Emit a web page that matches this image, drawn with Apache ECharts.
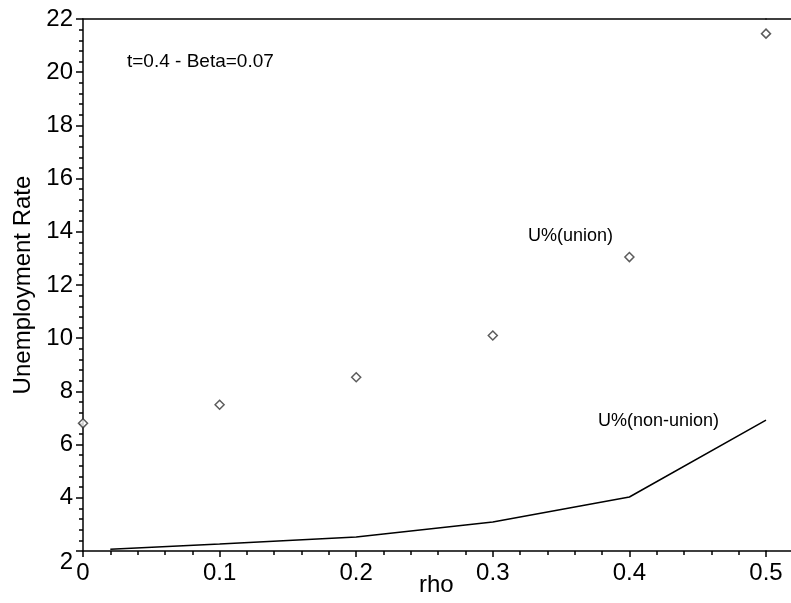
<!DOCTYPE html>
<html>
<head>
<meta charset="utf-8">
<script src="https://cdn.jsdelivr.net/npm/echarts@6/dist/echarts.min.js"></script>
<style>
  html, body { margin: 0; padding: 0; background: #fff; }
  #chart { width: 791px; height: 603px; }
</style>
</head>
<body>
<div id="chart"></div>
<script>
// values
const rhoUnion = [0, 0.1, 0.2, 0.3, 0.4, 0.5];
const unionRate = [6.8, 7.5, 8.53, 10.1, 13.05, 21.45];
const rhoNonUnion = [0.02, 0.1, 0.2, 0.3, 0.4, 0.5];
const nonUnionRate = [2.07, 2.26, 2.53, 3.09, 4.03, 6.92];

const font = "'Liberation Sans', Arial, sans-serif";
const black = { color: "#000", width: 1.5 };

const chart = echarts.init(document.getElementById("chart"));

const option = {
  animation: false,
  grid: [
    { left: 83, top: 19, bottom: 52, right: 25, outerBoundsMode: "none", containLabel: false },
    // thin strip past rho=0.5 so the frame lines run to the edge
    { left: 766, top: 19, bottom: 52, right: 0, outerBoundsMode: "none", containLabel: false },
  ],
  xAxis: [
    {
      type: "value",
      gridIndex: 0,
      min: 0,
      max: 0.5,
      interval: 0.1,
      axisLine: { lineStyle: black },
      axisTick: { length: 6, lineStyle: black },
      minorTick: { show: true, splitNumber: 5, length: 4, lineStyle: black },
      axisLabel: { fontFamily: font, fontSize: 24, color: "#000", margin: 10 },
      splitLine: { show: false },
    },
    {
      type: "value",
      gridIndex: 0,
      position: "top",
      min: 0,
      max: 0.5,
      axisLine: { show: true, lineStyle: black },
      axisTick: { show: false },
      axisLabel: { show: false },
      splitLine: { show: false },
    },
    {
      type: "value",
      gridIndex: 1,
      min: 0,
      max: 1,
      axisLine: { show: true, lineStyle: black },
      axisTick: { show: false },
      axisLabel: { show: false },
      splitLine: { show: false },
    },
    {
      type: "value",
      gridIndex: 1,
      position: "top",
      min: 0,
      max: 1,
      axisLine: { show: true, lineStyle: black },
      axisTick: { show: false },
      axisLabel: { show: false },
      splitLine: { show: false },
    },
  ],
  yAxis: [
    {
      type: "value",
      gridIndex: 0,
      min: 2,
      max: 22,
      interval: 2,
      name: "Unemployment Rate",
      nameLocation: "middle",
      nameGap: 47,
      nameTextStyle: { fontFamily: font, fontSize: 24, color: "#000" },
      axisLine: { show: true, lineStyle: black },
      axisTick: { length: 7, lineStyle: black },
      minorTick: { show: true, splitNumber: 5, length: 4, lineStyle: black },
      axisLabel: {
        fontFamily: font,
        fontSize: 24,
        color: "#000",
        margin: 10,
        formatter: (v) => (v === 2 ? "{low|2}" : String(v)),
        rich: { low: { fontFamily: font, fontSize: 24, color: "#000", padding: [22, 0, 0, 0] } },
      },
      splitLine: { show: false },
    },
    {
      type: "value",
      gridIndex: 1,
      min: 2,
      max: 22,
      show: false,
    },
  ],
  series: [
    {
      name: "U%(non-union)",
      type: "line",
      xAxisIndex: 0,
      yAxisIndex: 0,
      data: rhoNonUnion.map((x, i) => [x, nonUnionRate[i]]),
      symbol: "none",
      lineStyle: { color: "#000", width: 1.5 },
      z: 3,
    },
    {
      name: "U%(union)",
      type: "scatter",
      xAxisIndex: 0,
      yAxisIndex: 0,
      data: rhoUnion.map((x, i) => [x, unionRate[i]]),
      symbol: "diamond",
      symbolSize: 9,
      clip: false,
      itemStyle: { color: "#fff", borderColor: "#333", borderWidth: 1.5 },
      z: 4,
    },
  ],
  graphic: [
    // x axis title sits between the 0.2 and 0.3 labels, as in the original
    { type: "text", left: 419, top: 573, style: { text: "rho", fontFamily: font, fontSize: 24, fill: "#000" } },
    { type: "text", left: 127, top: 52, style: { text: "t=0.4 - Beta=0.07", fontFamily: font, fontSize: 19, fill: "#000" } },
    { type: "text", left: 528, top: 227, style: { text: "U%(union)", fontFamily: font, fontSize: 18, fill: "#000" } },
    { type: "text", left: 598, top: 412, style: { text: "U%(non-union)", fontFamily: font, fontSize: 18, fill: "#000" } },
  ],
};

chart.setOption(option);
</script>
</body>
</html>
